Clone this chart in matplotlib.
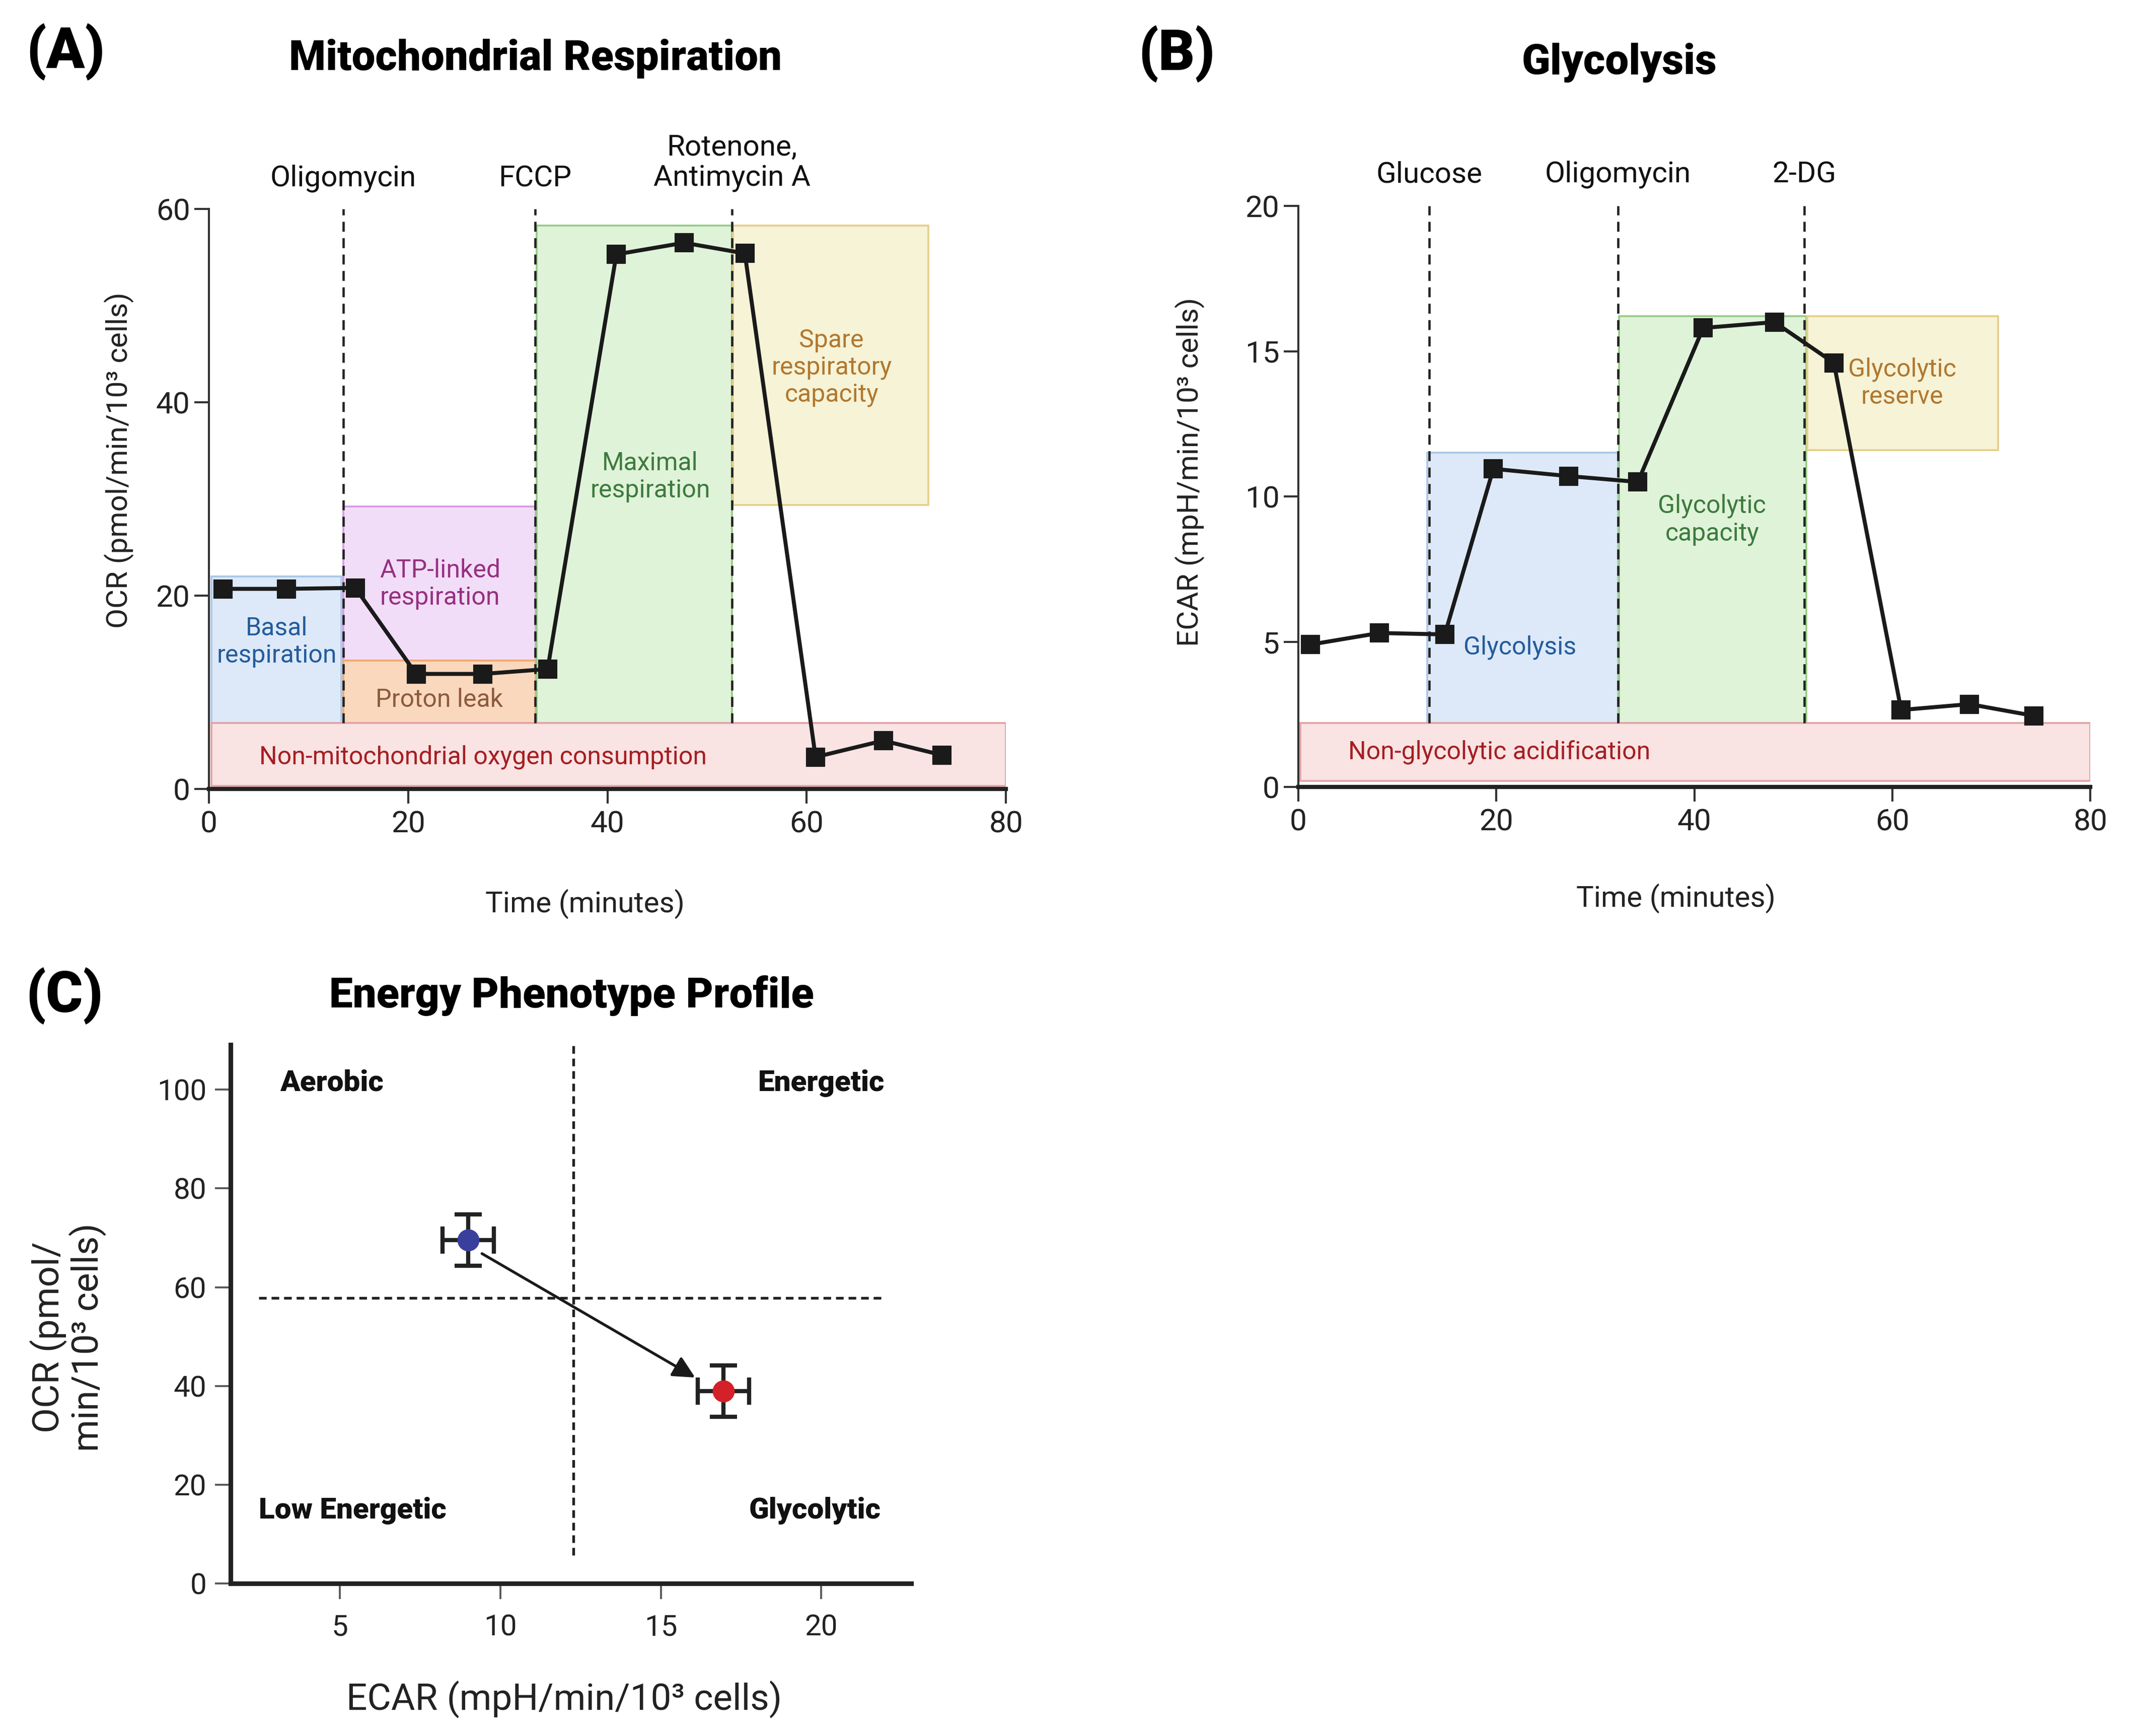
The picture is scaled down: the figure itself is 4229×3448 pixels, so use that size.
import numpy as np
import matplotlib
matplotlib.use("Agg")
import matplotlib.pyplot as plt
from matplotlib.patches import Rectangle

plt.rcParams['font.family'] = ['Roboto', 'DejaVu Sans']

# ---- panel A data: mitochondrial respiration (OCR) ----
ocr_time = [1.4, 7.8, 14.7, 20.8, 27.5, 34.0, 40.9, 47.7, 53.8, 60.9, 67.7, 73.6]
ocr_vals = [20.7, 20.7, 20.8, 11.9, 11.9, 12.4, 55.3, 56.5, 55.4, 3.3, 5.0, 3.5]
ocr_events = ['Oligomycin', 'FCCP', 'Rotenone,\nAntimycin A']
ocr_event_t = [13.5, 32.75, 52.5]
# regions: label, x0, x1, y0, y1, fill, edge, text colour, text x, text y
ocr_regions = [
    ('Basal\nrespiration', 0.25, 13.3, 6.8, 22.0, '#dde9f8', '#a9c8e8', '#245c9c', 6.8, 15.2),
    ('ATP-linked\nrespiration', 13.5, 32.8, 13.3, 29.2, '#f2ddf8', '#d99be6', '#96307f', 23.2, 21.2),
    ('Proton leak', 13.5, 32.8, 6.8, 13.3, '#fad8bd', '#f2aa6c', '#8c5a3c', 23.1, 9.2),
    ('Maximal\nrespiration', 32.9, 52.5, 6.8, 58.3, '#dff3d9', '#98cc88', '#3d7a3d', 44.3, 32.3),
    ('Spare\nrespiratory\ncapacity', 52.6, 72.2, 29.4, 58.3, '#f6f3d6', '#e6cf8a', '#b07830', 62.5, 43.6),
    ('Non-mitochondrial oxygen consumption', 0.25, 80, 0.3, 6.8, '#f9e3e3', '#e3a4a8', '#a51e22', 27.5, 3.3),
]

# ---- panel B data: glycolysis (ECAR) ----
ecar_time = [1.2, 8.2, 14.8, 19.7, 27.3, 34.3, 40.9, 48.1, 54.1, 60.9, 67.8, 74.3]
ecar_vals = [4.9, 5.3, 5.25, 10.95, 10.7, 10.5, 15.8, 16.0, 14.6, 2.65, 2.85, 2.45]
ecar_events = ['Glucose', 'Oligomycin', '2-DG']
ecar_event_t = [13.2, 32.3, 51.1]
ecar_regions = [
    ('Glycolysis', 13.0, 32.3, 2.2, 11.5, '#dde9f8', '#a9c8e8', '#245c9c', 22.4, 4.8),
    ('Glycolytic\ncapacity', 32.4, 51.3, 2.2, 16.2, '#dff3d9', '#98cc88', '#3d7a3d', 41.8, 9.2),
    ('Glycolytic\nreserve', 51.4, 70.7, 11.6, 16.2, '#f6f3d6', '#e6cf8a', '#b07830', 61.0, 13.9),
    ('Non-glycolytic acidification', 0.2, 80, 0.2, 2.2, '#f9e3e3', '#e3a4a8', '#a51e22', 20.3, 1.2),
]

# ---- panel C data: energy phenotype ----
phen_ecar = [9.0, 16.95]
phen_ocr = [69.5, 39.0]
phen_ecar_err = [0.8, 0.8]
phen_ocr_err = [5.2, 5.2]
phen_colors = ['#3a3f9e', '#d42028']
quadrants = ['Aerobic', 'Energetic', 'Low Energetic', 'Glycolytic']
quad_x = [4.75, 20.0, 5.4, 19.8]
quad_y = [101.3, 101.3, 14.7, 14.7]
ecar_split = 12.28
ocr_split = 57.8

W, H = 4229, 3448
fig = plt.figure(figsize=(W / 300, H / 300), dpi=300)

dash = (0, (4.3, 2.8))


def style_time_axis(ax):
    for s in ['top', 'right']:
        ax.spines[s].set_visible(False)
    ax.spines['left'].set_linewidth(1.0)
    ax.spines['left'].set_color('#333333')
    ax.spines['bottom'].set_linewidth(2.0)
    ax.spines['bottom'].set_color('#222222')
    ax.tick_params(direction='out', length=7, width=1.0, color='#333333',
                   labelsize=14.5, labelcolor='#222222')
    ax.tick_params(axis='x', pad=3)
    ax.tick_params(axis='y', pad=2)


def draw_regions(ax, regions):
    for lab, x0, x1, y0, y1, fc, ec, tc, tx, ty in regions:
        ax.add_patch(Rectangle((x0, y0), x1 - x0, y1 - y0, facecolor=fc,
                               edgecolor=ec, linewidth=0.9, zorder=1))
        ax.text(tx, ty, lab, color=tc, fontsize=12, ha='center', va='center',
                linespacing=1.15, zorder=2)


# ---------------- (A) ----------------
axA = fig.add_axes([415 / W, 1 - 1567 / H, (1998 - 415) / W, (1567 - 415) / H])
draw_regions(axA, ocr_regions)
for name, t in zip(ocr_events, ocr_event_t):
    axA.plot([t, t], [6.8, 60], color='#222222', lw=1.1, linestyle=dash, zorder=3)
    axA.text(t, 61.7, name, ha='center', va='bottom', fontsize=14,
             linespacing=1.15, color='#111111')
axA.plot(ocr_time, ocr_vals, color='#1a1a1a', lw=1.9, marker='s', ms=8,
         zorder=4, clip_on=False)
axA.set_xlim(0, 80)
axA.set_ylim(0, 60)
axA.set_xticks([0, 20, 40, 60, 80])
axA.set_yticks([0, 20, 40, 60])
style_time_axis(axA)
axA.set_xlabel('Time (minutes)', fontsize=14, color='#222222')
axA.xaxis.set_label_coords(0.472, -0.198)
axA.xaxis.label.set_va('center')
axA.set_ylabel('OCR (pmol/min/10³ cells)', fontsize=14, color='#222222')
axA.yaxis.set_label_coords(-0.113, 0.567)
axA.yaxis.label.set_va('center')

# ---------------- (B) ----------------
axB = fig.add_axes([2579 / W, 1 - 1563 / H, (4152 - 2579) / W, (1563 - 409) / H])
draw_regions(axB, ecar_regions)
for name, t in zip(ecar_events, ecar_event_t):
    axB.plot([t, t], [2.2, 20], color='#222222', lw=1.1, linestyle=dash, zorder=3)
    axB.text(t, 20.6, name, ha='center', va='bottom', fontsize=14, color='#111111')
axB.plot(ecar_time, ecar_vals, color='#1a1a1a', lw=1.9, marker='s', ms=8,
         zorder=4, clip_on=False)
axB.set_xlim(0, 80)
axB.set_ylim(0, 20)
axB.set_xticks([0, 20, 40, 60, 80])
axB.set_yticks([0, 5, 10, 15, 20])
style_time_axis(axB)
axB.set_xlabel('Time (minutes)', fontsize=14, color='#222222')
axB.xaxis.set_label_coords(0.477, -0.192)
axB.xaxis.label.set_va('center')
axB.set_ylabel('ECAR (mpH/min/10³ cells)', fontsize=14, color='#222222')
axB.yaxis.set_label_coords(-0.137, 0.542)
axB.yaxis.label.set_va('center')

# ---------------- (C) ----------------
axC = fig.add_axes([458 / W, 1 - 3145 / H, (1810 - 458) / W, (3145 - 2075) / H])
axC.set_xlim(1.6, 22.8)
axC.set_ylim(0, 109.1)
axC.plot([ecar_split, ecar_split], [5.7, 109.1], color='#222222', lw=1.3,
         linestyle=(0, (2.8, 1.8)), zorder=1)
axC.plot([2.48, 22.0], [ocr_split, ocr_split], color='#222222', lw=1.3,
         linestyle=(0, (2.8, 1.8)), zorder=1)
axC.annotate('', xy=(16.07, 41.7), xytext=(9.43, 66.8),
             arrowprops=dict(arrowstyle='-|>', color='#1a1a1a', lw=1.3,
                             mutation_scale=22, shrinkA=0, shrinkB=0), zorder=2)
for x, y, xe, ye, c in zip(phen_ecar, phen_ocr, phen_ecar_err, phen_ocr_err, phen_colors):
    axC.errorbar(x, y, xerr=xe, yerr=ye, fmt='o', color=c, ms=9.5, mec=c,
                 ecolor='#222222', elinewidth=2.0, capsize=6.5, capthick=2.0, zorder=3)
for lab, x, y in zip(quadrants, quad_x, quad_y):
    axC.text(x, y, lab, ha='center', va='center', fontsize=14,
             fontweight='heavy', color='#111111')
for s in ['top', 'right']:
    axC.spines[s].set_visible(False)
for s in ['left', 'bottom']:
    axC.spines[s].set_linewidth(2.2)
    axC.spines[s].set_color('#222222')
axC.set_xticks([5, 10, 15, 20])
axC.set_yticks([0, 20, 40, 60, 80, 100])
axC.tick_params(direction='out', length=7.5, width=0.9, color='#555555',
                labelsize=14, labelcolor='#222222')
axC.tick_params(axis='x', pad=7)
axC.tick_params(axis='y', pad=4)
axC.set_xlabel('ECAR (mpH/min/10³ cells)', fontsize=17.5, color='#222222')
axC.xaxis.set_label_coords(0.49, -0.215)
axC.xaxis.label.set_va('center')
axC.set_ylabel('OCR (pmol/\nmin/10³ cells)', fontsize=17.5, color='#222222',
               linespacing=1.05)
axC.yaxis.set_label_coords(-0.239, 0.457)
axC.yaxis.label.set_va('center')

# titles and panel letters
fig.text(1063 / W, 1 - 117 / H, 'Mitochondrial Respiration', ha='center',
         va='center', fontsize=20, fontweight='heavy')
fig.text(3216 / W, 1 - 125 / H, 'Glycolysis', ha='center', va='center',
         fontsize=20, fontweight='heavy')
fig.text(1135 / W, 1 - 1978 / H, 'Energy Phenotype Profile', ha='center',
         va='center', fontsize=20, fontweight='heavy')
for lab, x, y in [('(A)', 130, 103), ('(B)', 2337, 107), ('(C)', 128, 1978)]:
    fig.text(x / W, 1 - y / H, lab, ha='center', va='center', fontsize=27,
             fontweight='heavy')

fig.savefig('out.png', dpi=300, facecolor='white')
